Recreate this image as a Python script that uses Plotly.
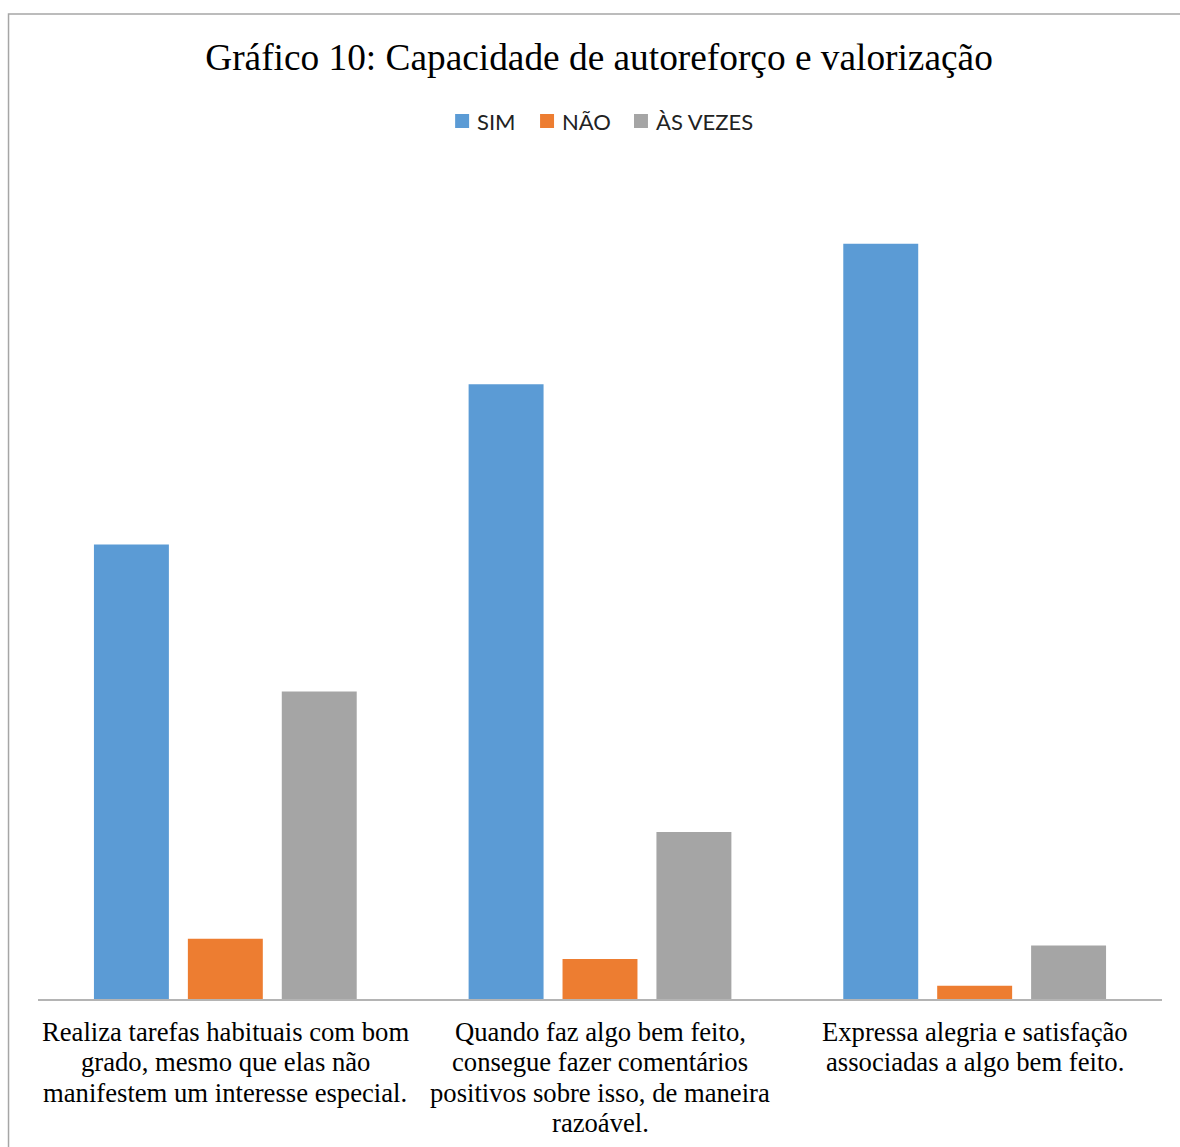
import plotly.graph_objects as go

categories = [
    "Realiza tarefas habituais com bom<br>grado, mesmo que elas não<br>manifestem um interesse especial.",
    "Quando faz algo bem feito,<br>consegue fazer comentários<br>positivos sobre isso, de maneira<br>razoável.",
    "Expressa alegria e satisfação<br>associadas a algo bem feito.",
]
series_names = ["SIM", "NÃO", "ÀS VEZES"]
sim = [68, 92, 113]
nao = [9, 6, 2]
as_vezes = [46, 25, 8]
colors = ["#5B9BD5", "#ED7D31", "#A5A5A5"]

W, H = 1180, 1147
left, right = 37.5, 1162.5
top, bottom = 159, 999
ymax = 125.7

fig = go.Figure()
for name, vals, c in zip(series_names, [sim, nao, as_vezes], colors):
    fig.add_trace(go.Bar(x=categories, y=vals, name=name, marker_color=c,
                         marker_line_width=0, showlegend=False))

pw = right - left
ph = bottom - top


def px_x(v):
    return (v - left) / pw


def px_y(v):
    return (bottom - v) / ph


# category labels drawn line by line (tighter line spacing like the original)
line_step = 30.3
first_line = 1032
for cat in categories:
    for i, line in enumerate(cat.split("<br>")):
        yc = first_line + i * line_step
        fig.add_annotation(x=cat, xref="x", y=px_y(yc), yref="paper",
                           text=line, showarrow=False, xanchor="center",
                           yanchor="middle",
                           font=dict(family="Liberation Serif", size=26.67,
                                     color="black"))

# legend (drawn manually so marker size/spacing match the original)
legend_marker_x = [455, 540, 634]
legend_y = 121
for name, c, mx in zip(series_names, colors, legend_marker_x):
    fig.add_shape(type="rect", xref="paper", yref="paper",
                  x0=px_x(mx), x1=px_x(mx + 14),
                  y0=px_y(legend_y + 7), y1=px_y(legend_y - 7),
                  fillcolor=c, line=dict(width=0))
    fig.add_annotation(x=px_x(mx + 20), xref="paper", y=px_y(legend_y + 1),
                       yref="paper", text=name, showarrow=False,
                       xanchor="left", yanchor="middle",
                       font=dict(family="Lato", size=22, color="#222"))

fig.update_layout(
    width=W, height=H,
    margin=dict(l=left, r=W - right, t=top, b=H - bottom, pad=0),
    paper_bgcolor="white", plot_bgcolor="white",
    barmode="group", bargap=0.248, bargroupgap=0.202,
    title=dict(text="Gráfico 10: Capacidade de autoreforço e valorização",
               x=599 / W, xanchor="center", y=1 - 57 / H, yanchor="middle",
               yref="container", xref="container",
               font=dict(family="Liberation Serif", size=37.33, color="black")),
    xaxis=dict(showline=True, linecolor="#b4b4b4", linewidth=1.5,
               showticklabels=False, ticks="", automargin=False,
               showgrid=False),
    yaxis=dict(range=[0, ymax], visible=False, showgrid=False,
               automargin=False),
    showlegend=False,
)
fig.add_shape(type="rect", xref="paper", yref="paper",
              x0=px_x(8), x1=px_x(1195),
              y0=px_y(1165), y1=px_y(14),
              line=dict(color="#a6a6a6", width=1.5), fillcolor="rgba(0,0,0,0)",
              layer="below")

fig.write_html("out.html")
